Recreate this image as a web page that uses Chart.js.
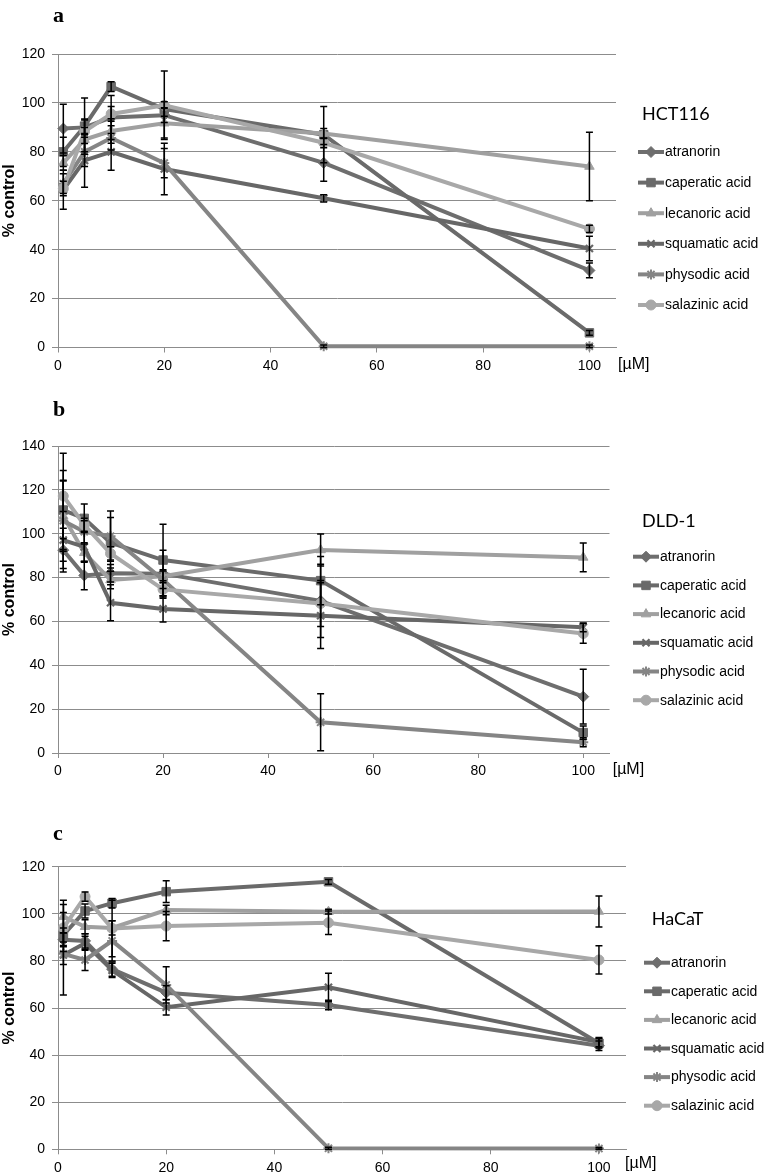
<!DOCTYPE html>
<html>
<head>
<meta charset="utf-8">
<script src="https://cdn.jsdelivr.net/npm/chart.js@4.4.1/dist/chart.umd.min.js"></script>
<style>
html,body{margin:0;padding:0;background:#fff;}
body{width:767px;height:1175px;position:relative;overflow:hidden;}
.panel{position:absolute;left:0;width:767px;}
.panel canvas{display:block;}
.letter{position:absolute;font-family:"Liberation Serif","DejaVu Serif",serif;font-weight:bold;font-size:22px;line-height:1;color:#000;white-space:nowrap;}
.cell{position:absolute;font-family:Lato,"Open Sans",sans-serif;font-size:18px;line-height:1;color:#000;white-space:nowrap;}
.unit{position:absolute;font-family:"Liberation Sans",Arial,sans-serif;font-size:16px;line-height:1;color:#000;white-space:nowrap;}
</style>
</head>
<body>
<div class="panel" id="pa" style="top:0;height:385px"><canvas id="ca" width="767" height="385"></canvas></div>
<div class="panel" id="pb" style="top:385px;height:395px"><canvas id="cb" width="767" height="395"></canvas></div>
<div class="panel" id="pc" style="top:780px;height:395px"><canvas id="cc" width="767" height="395"></canvas></div>
<div id="overlay"></div>
<script>
// ---------------- DATA ----------------
const doses = [1, 5, 10, 20, 50, 100];
const compounds = ['atranorin', 'caperatic acid', 'lecanoric acid', 'squamatic acid', 'physodic acid', 'salazinic acid'];
const cellLines = ['HCT116', 'DLD-1', 'HaCaT'];
const panelLetters = ['a', 'b', 'c'];
const unitLabel = '[µM]';
const yAxisTitle = '% control';
const xTicksStep = 20;
const yMaxes = [120, 140, 120];

// HCT116 (% control), one row per compound, one column per dose
const hct116Means = [
  [89.5, 90.0, 94.0, 95.0, 75.5, 31.5],
  [80.0, 90.5, 106.7, 97.5, 87.0, 6.0],
  [75.5, 85.0, 88.5, 91.7, 87.5, 74.0],
  [64.5, 76.5, 80.0, 73.0, 61.0, 40.5],
  [67.0, 80.0, 85.7, 75.4, 0.5, 0.5],
  [65.0, 88.4, 95.5, 99.0, 83.7, 48.5]
];
const hct116Errors = [
  [10, 3, 9, 3, 7.5, 3],
  [6, 11.5, 2, 3, 11.5, 1],
  [3, 5, 5, 6, 2, 14],
  [8, 11, 7.5, 10.5, 1.5, 5],
  [4, 6, 5, 6, 0.5, 0.5],
  [3, 5, 3, 14, 2, 1.5]
];

// DLD-1
const dld1Means = [
  [92.5, 81.0, 82.0, 81.8, 69.4, 25.7],
  [110.8, 107.0, 95.9, 88.0, 78.6, 9.3],
  [108.0, 91.3, 78.9, 80.6, 92.6, 89.2],
  [97.1, 94.0, 68.5, 65.7, 62.6, 57.3],
  [105.9, 100.9, 98.9, 79.0, 14.0, 4.9],
  [117.2, 104.0, 91.0, 74.6, 68.2, 54.5]
];
const dld1Errors = [
  [10, 6.5, 4, 10.7, 16.7, 12.5],
  [18, 6.5, 11.5, 16.3, 11, 3],
  [16, 4, 4, 3, 7.3, 6.6],
  [13, 7, 8.2, 6, 15, 2],
  [18.5, 5, 11.5, 4, 13, 2],
  [19.5, 3, 3, 4, 10.5, 4.5]
];

// HaCaT
const hacatMeans = [
  [89.0, 88.5, 76.5, 66.5, 61.3, 44.0],
  [91.0, 101.2, 104.5, 109.4, 113.6, 45.0],
  [98.8, 94.5, 94.0, 101.6, 100.9, 101.0],
  [82.5, 87.5, 76.0, 60.3, 68.8, 45.5],
  [83.0, 80.4, 88.5, 69.8, 0.4, 0.3],
  [94.0, 107.3, 93.8, 94.8, 96.2, 80.4]
];
const hacatErrors = [
  [3, 3, 3, 3, 2, 2],
  [3, 3, 2, 4.6, 1, 2],
  [7, 3, 3, 2, 1, 6.6],
  [4, 3, 3, 3.3, 6, 2],
  [17.5, 4.5, 8.5, 7.7, 0.5, 0.5],
  [10, 2, 12, 6.2, 5, 6]
];

const panelMeans = [hct116Means, dld1Means, hacatMeans];
const panelErrors = [hct116Errors, dld1Errors, hacatErrors];

// ---------------- STYLES / LAYOUT ----------------
const seriesColors = ['#6e6e6e', '#6a6a6a', '#a0a0a0', '#676767', '#858585', '#a8a8a8'];
const seriesMarkers = ['rectRot', 'rect', 'triangle', 'crossRot', 'star', 'circle'];
const seriesRadius = [5.5, 6, 5.5, 5, 5, 5];
const seriesMarkerBorder = [1, 1, 1, 2.2, 2, 1];
const gridColor = '#8c8c8c';
const tickFont = {family: '"Liberation Sans", Arial, sans-serif', size: 14};

// chart area geometry inside each panel canvas
const panelGeom = [
  {canvas: 'ca', top: 0, height: 385, padTop: 54, padRight: 151, padBottom: 13.5,
   legend: {x0: 638, y0: 152, dy: 30.6}, letter: {left: 53, top: 3.6}, cell: {left: 642, top: 103.5}, unit: {left: 618, top: 355.7}},
  {canvas: 'cb', top: 385, height: 395, padTop: 61, padRight: 157.5, padBottom: 3,
   legend: {x0: 633, y0: 171.7, dy: 28.7}, letter: {left: 53, top: 398}, cell: {left: 642, top: 510.5}, unit: {left: 612.7, top: 760.7}},
  {canvas: 'cc', top: 780, height: 395, padTop: 86.7, padRight: 141, padBottom: 1.7,
   legend: {x0: 644, y0: 182.7, dy: 28.6}, letter: {left: 53, top: 821.6}, cell: {left: 651.7, top: 908.8}, unit: {left: 625, top: 1154.7}}
];

// ---------------- PLUGINS ----------------
const errorBarPlugin = {
  id: 'errorBars',
  afterDatasetsDraw(chart) {
    const ctx = chart.ctx, xs = chart.scales.x, ys = chart.scales.y;
    ctx.save();
    ctx.strokeStyle = '#000';
    ctx.lineWidth = 1.5;
    chart.data.datasets.forEach(ds => {
      (ds.errors || []).forEach((e, j) => {
        if (!e) return;
        const p = ds.data[j];
        const x = xs.getPixelForValue(p.x);
        const yt = ys.getPixelForValue(p.y + e);
        const yb = ys.getPixelForValue(Math.max(0, p.y - e));
        ctx.beginPath();
        ctx.moveTo(x, yt); ctx.lineTo(x, yb);
        ctx.moveTo(x - 3.5, yt); ctx.lineTo(x + 3.5, yt);
        ctx.moveTo(x - 3.5, yb); ctx.lineTo(x + 3.5, yb);
        ctx.stroke();
      });
    });
    ctx.restore();
  }
};

const sideLegendPlugin = {
  id: 'sideLegend',
  afterDraw(chart, args, opts) {
    const ctx = chart.ctx;
    ctx.save();
    chart.data.datasets.forEach((ds, i) => {
      const y = opts.y0 + i * opts.dy;
      const x0 = opts.x0, len = 26;
      ctx.strokeStyle = ds.borderColor;
      ctx.lineWidth = ds.borderWidth;
      ctx.lineCap = 'butt';
      ctx.beginPath();
      ctx.moveTo(x0, y); ctx.lineTo(x0 + len, y);
      ctx.stroke();
      ctx.fillStyle = ds.pointBackgroundColor;
      ctx.strokeStyle = ds.pointBorderColor;
      ctx.lineWidth = ds.pointBorderWidth;
      Chart.helpers.drawPoint(ctx, {pointStyle: ds.pointStyle, radius: ds.pointRadius, borderWidth: ds.pointBorderWidth, rotation: 0}, x0 + len / 2, y);
      ctx.fillStyle = '#000';
      ctx.font = '14px "Liberation Sans", Arial, sans-serif';
      ctx.textAlign = 'left';
      ctx.textBaseline = 'middle';
      ctx.fillText(ds.label, x0 + len + 1, y + 0.5);
    });
    ctx.restore();
  }
};

// ---------------- BUILD ----------------
const overlay = document.getElementById('overlay');
function addText(cls, text, pos) {
  const d = document.createElement('div');
  d.className = cls;
  d.textContent = text;
  d.style.left = pos.left + 'px';
  d.style.top = pos.top + 'px';
  overlay.appendChild(d);
}

panelGeom.forEach((g, p) => {
  const datasets = compounds.map((name, i) => ({
    label: name,
    data: doses.map((d, j) => ({x: d, y: panelMeans[p][i][j]})),
    errors: panelErrors[p][i],
    borderColor: seriesColors[i],
    backgroundColor: seriesColors[i],
    borderWidth: 4,
    pointStyle: seriesMarkers[i],
    pointRadius: seriesRadius[i],
    pointBackgroundColor: seriesColors[i],
    pointBorderColor: seriesColors[i],
    pointBorderWidth: seriesMarkerBorder[i],
    tension: 0,
    clip: false,
    order: compounds.length - i
  }));

  new Chart(document.getElementById(g.canvas), {
    type: 'line',
    data: {datasets},
    plugins: [errorBarPlugin, sideLegendPlugin],
    options: {
      responsive: false,
      animation: false,
      events: [],
      layout: {padding: {top: g.padTop, right: g.padRight, bottom: g.padBottom, left: 0}},
      plugins: {
        legend: {display: false},
        tooltip: {enabled: false},
        sideLegend: g.legend
      },
      scales: {
        x: {
          type: 'linear', min: 0, max: 105,
          ticks: {stepSize: xTicksStep, includeBounds: false, color: '#000', font: tickFont, padding: 5, maxRotation: 0},
          grid: {drawOnChartArea: false, drawTicks: true, tickLength: 5, color: gridColor, lineWidth: 1},
          border: {color: gridColor, width: 1},
          afterFit(s) { s.height = 24; }
        },
        y: {
          type: 'linear', min: 0, max: yMaxes[p],
          ticks: {stepSize: 20, color: '#000', font: tickFont, padding: 7},
          grid: {color: gridColor, lineWidth: 1, tickLength: 6},
          border: {color: gridColor, width: 1},
          title: {display: true, text: yAxisTitle, color: '#000',
                  font: {family: '"Liberation Sans", Arial, sans-serif', size: 16, weight: 'bold'},
                  padding: {top: 0, bottom: 0}},
          afterFit(s) { s.width = 58; }
        }
      }
    }
  });

  addText('letter', panelLetters[p], g.letter);
  addText('cell', cellLines[p], g.cell);
  addText('unit', unitLabel, g.unit);
});
</script>
</body>
</html>
